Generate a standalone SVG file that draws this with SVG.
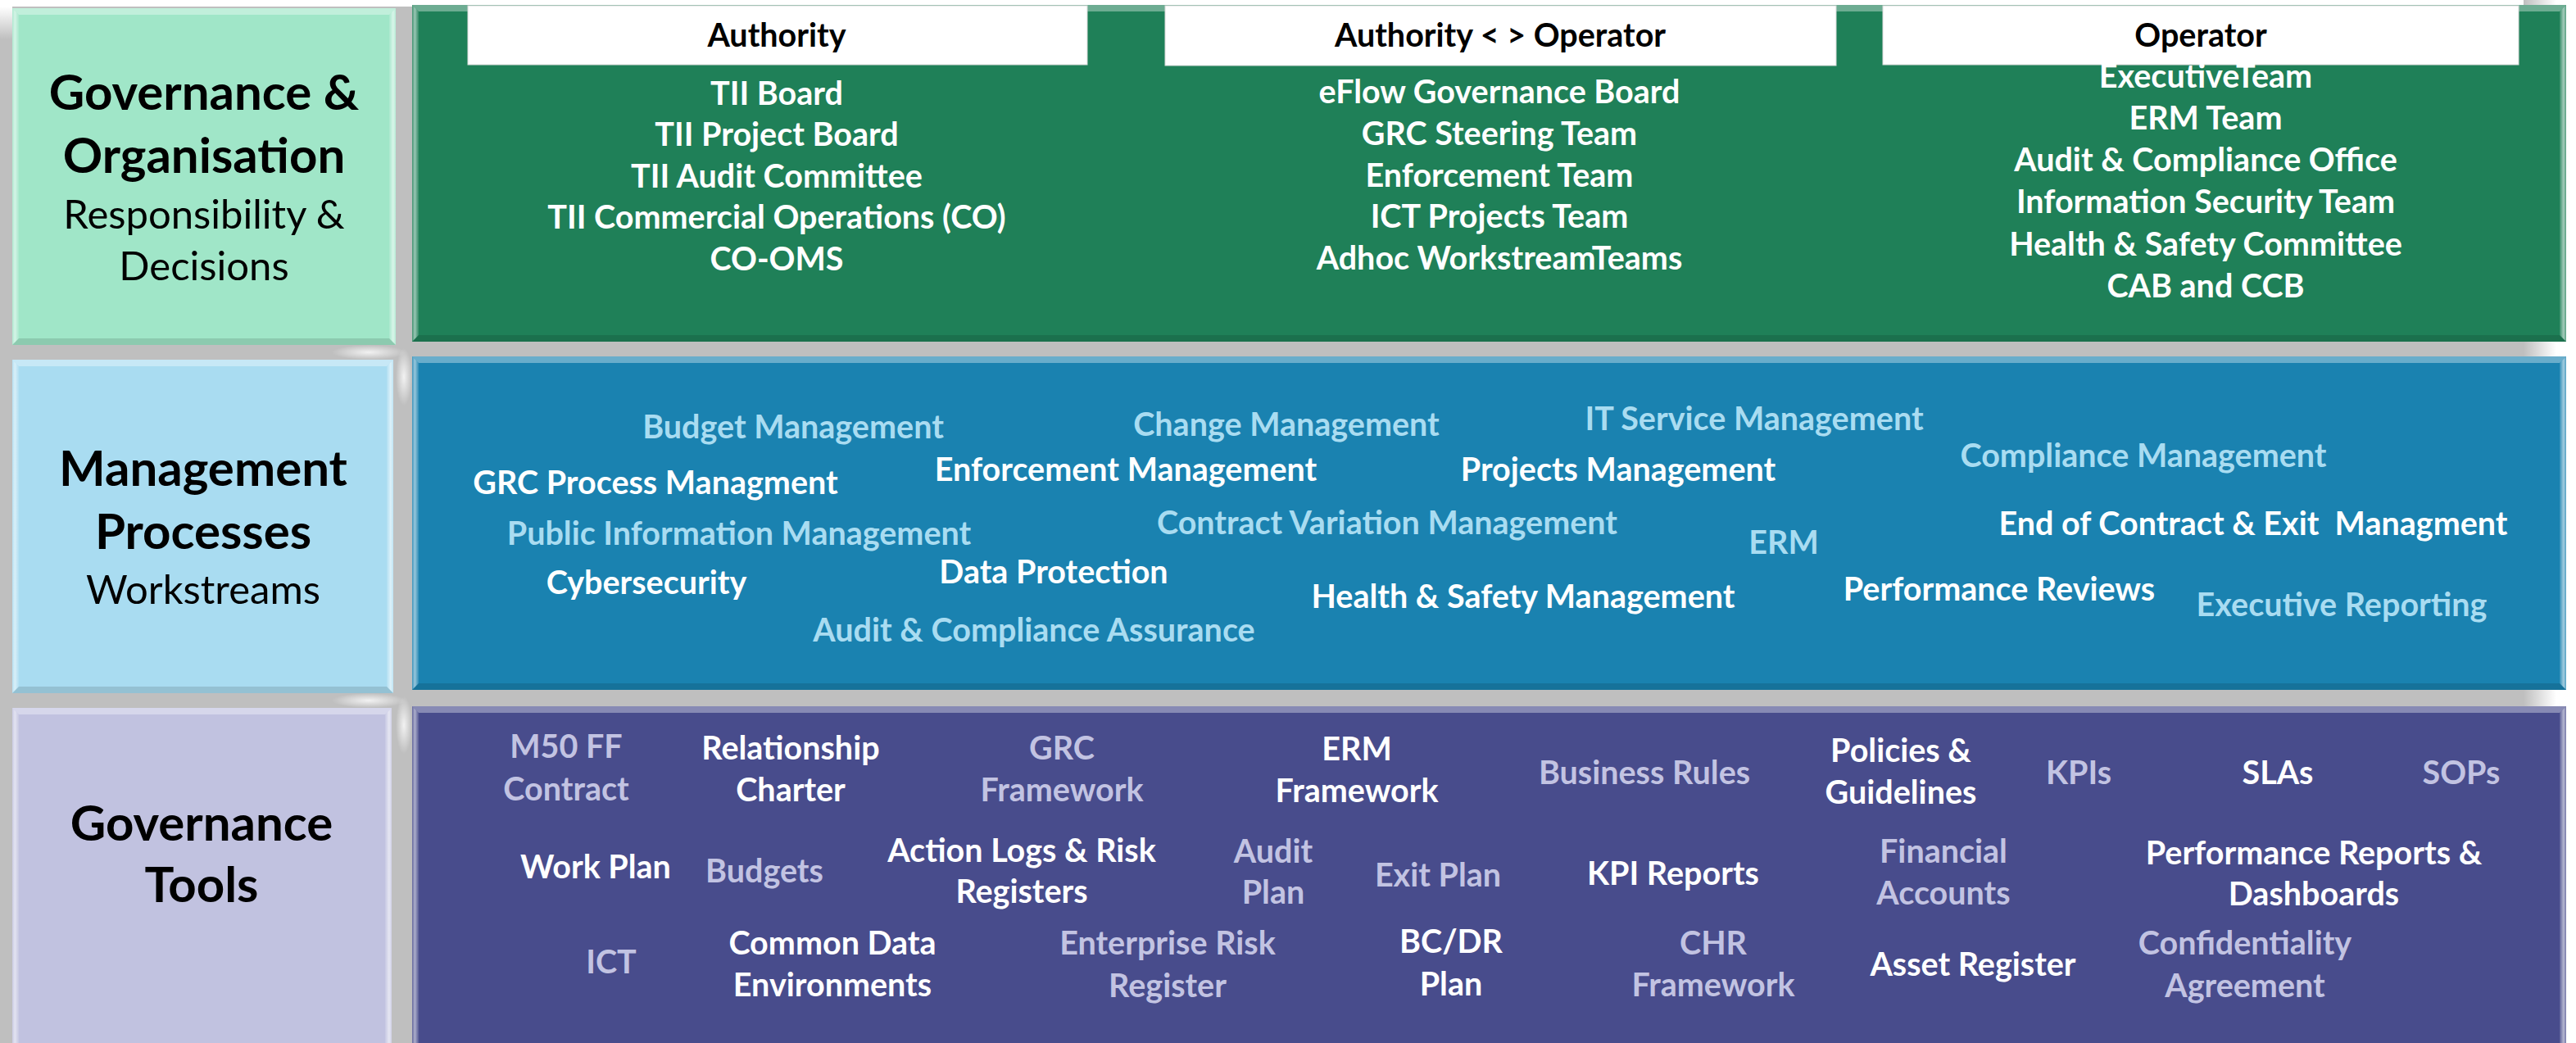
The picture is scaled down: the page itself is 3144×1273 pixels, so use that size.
<svg xmlns="http://www.w3.org/2000/svg" width="3144" height="1273" viewBox="0 0 3144 1273">
  <defs>
    <style>
      .t { font-family: Lato, "Open Sans", "Liberation Sans", sans-serif; font-weight: 700; text-anchor: middle; }
      .title { font-size: 60px; fill: #000; }
      .sub { font-size: 49px; font-weight: 400; fill: #000; }
      .hd { font-size: 39.5px; fill: #000; }
      .item { font-size: 39.5px; }
      .w { fill: #ffffff; }
      .lb { fill: #a9dcf1; }
      .lv { fill: #c2c3e2; }
      .hdbox { fill: #ffffff; stroke: #d9d9d9; stroke-width: 1; }
      .bvL { fill: url(#bevelL); }
      .bvR { fill: url(#bevelR); }
      .bvT { fill: #ffffff; fill-opacity: 0.35; }
      .bvB { fill: #000000; fill-opacity: 0.12; }
    </style>
    <linearGradient id="bevelL" x1="0" y1="0" x2="1" y2="0">
      <stop offset="0" stop-color="#ffffff" stop-opacity="0.15"/>
      <stop offset="0.4" stop-color="#ffffff" stop-opacity="0.55"/>
      <stop offset="1" stop-color="#ffffff" stop-opacity="0.1"/>
    </linearGradient>
    <linearGradient id="bevelR" x1="0" y1="0" x2="1" y2="0">
      <stop offset="0" stop-color="#ffffff" stop-opacity="0.1"/>
      <stop offset="0.6" stop-color="#ffffff" stop-opacity="0.6"/>
      <stop offset="1" stop-color="#ffffff" stop-opacity="0.25"/>
    </linearGradient>
    <linearGradient id="fadeRight" x1="0" y1="0" x2="1" y2="0">
      <stop offset="0" stop-color="#bfbfbf"/>
      <stop offset="1" stop-color="#ffffff"/>
    </linearGradient>
    <linearGradient id="fadeTop" x1="0" y1="0" x2="0" y2="1">
      <stop offset="0" stop-color="#ffffff"/>
      <stop offset="1" stop-color="#bfbfbf"/>
    </linearGradient>
    <radialGradient id="glint">
      <stop offset="0" stop-color="#ffffff" stop-opacity="0.8"/>
      <stop offset="1" stop-color="#ffffff" stop-opacity="0"/>
    </radialGradient>
  </defs>

  <!-- backdrop -->
  <g id="backdrop">
    <rect x="0" y="0" width="3144" height="1273" fill="#bfbfbf"/>
    <rect x="0" y="0" width="3144" height="8" fill="#ffffff"/>
    <rect x="0" y="8" width="15" height="40" fill="url(#fadeTop)"/>
    <rect x="3080" y="0" width="40" height="1273" fill="url(#fadeRight)"/>
    <rect x="3120" y="0" width="24" height="1273" fill="#ffffff"/>
    <ellipse cx="450" cy="430" rx="45" ry="9" fill="url(#glint)"/>
    <ellipse cx="450" cy="855" rx="45" ry="9" fill="url(#glint)"/>
    <ellipse cx="493" cy="460" rx="10" ry="35" fill="url(#glint)"/>
    <ellipse cx="493" cy="885" rx="10" ry="35" fill="url(#glint)"/>
  </g>

  <!-- Row 1: Governance & Organisation -->
  <g id="gov-org-label">
    <rect x="15" y="10" width="468" height="411" fill="#a0e6c8"/>
    <polygon class="bvL" points="15,10 23,18 23,413 15,421"/>
    <polygon class="bvR" points="483,10 475,18 475,413 483,421"/>
    <polygon class="bvT" points="15,10 483,10 475,18 23,18"/>
    <polygon class="bvB" points="15,421 483,421 475,413 23,413"/>
    <text class="t title" x="249" y="134">Governance &amp;</text>
    <text class="t title" x="249" y="211">Organisation</text>
    <text class="t sub" x="249" y="279">Responsibility &amp;</text>
    <text class="t sub" x="249" y="342">Decisions</text>
  </g>

  <g id="gov-org-content">
    <rect x="503" y="6" width="2629" height="411" fill="#1f8058"/>
    <polygon class="bvL" points="503,6 511,14 511,409 503,417"/>
    <polygon class="bvR" points="3132,6 3124,14 3124,409 3132,417"/>
    <polygon class="bvT" points="503,6 3132,6 3124,14 511,14"/>
    <polygon class="bvB" points="503,417 3132,417 3124,409 511,409"/>

    <g id="authority">
      <rect class="hdbox" x="571" y="7" width="756" height="72"/>
      <text class="t hd" x="948" y="57">Authority</text>
      <text class="t item w" x="948" y="128">TII Board</text>
      <text class="t item w" x="948" y="178">TII Project Board</text>
      <text class="t item w" x="948" y="229">TII Audit Committee</text>
      <text class="t item w" x="948" y="279">TII Commercial Operations (CO)</text>
      <text class="t item w" x="948" y="330">CO-OMS</text>
    </g>

    <g id="authority-operator">
      <rect class="hdbox" x="1422" y="7" width="819" height="73"/>
      <text class="t hd" x="1831" y="57">Authority &lt; &gt; Operator</text>
      <text class="t item w" x="1830" y="126">eFlow Governance Board</text>
      <text class="t item w" x="1830" y="177">GRC Steering Team</text>
      <text class="t item w" x="1830" y="228">Enforcement Team</text>
      <text class="t item w" x="1830" y="278">ICT Projects Team</text>
      <text class="t item w" x="1830" y="329">Adhoc WorkstreamTeams</text>
    </g>

    <g id="operator">
      <rect class="hdbox" x="2298" y="7" width="776" height="72"/>
      <text class="t hd" x="2686" y="57">Operator</text>
      <text class="t item w" x="2692" y="107">ExecutiveTeam</text>
      <text class="t item w" x="2692" y="158">ERM Team</text>
      <text class="t item w" x="2692" y="209">Audit &amp; Compliance Office</text>
      <text class="t item w" x="2692" y="260">Information Security Team</text>
      <text class="t item w" x="2692" y="312">Health &amp; Safety Committee</text>
      <text class="t item w" x="2692" y="363">CAB and CCB</text>
    </g>
  </g>

  <!-- Row 2: Management Processes -->
  <g id="mgmt-label">
    <rect x="15" y="439" width="465" height="407" fill="#a9dcf1"/>
    <polygon class="bvL" points="15,439 23,447 23,838 15,846"/>
    <polygon class="bvR" points="480,439 472,447 472,838 480,846"/>
    <polygon class="bvT" points="15,439 480,439 472,447 23,447"/>
    <polygon class="bvB" points="15,846 480,846 472,838 23,838"/>
    <text class="t title" x="248" y="593">Management</text>
    <text class="t title" x="248" y="670">Processes</text>
    <text class="t sub" x="248" y="737">Workstreams</text>
  </g>

  <g id="mgmt-content">
    <rect x="503" y="435" width="2629" height="407" fill="#1a82b0"/>
    <polygon class="bvL" points="503,435 511,443 511,834 503,842"/>
    <polygon class="bvR" points="3132,435 3124,443 3124,834 3132,842"/>
    <polygon class="bvT" points="503,435 3132,435 3124,443 511,443"/>
    <polygon class="bvB" points="503,842 3132,842 3124,834 511,834"/>

    <text class="t item lb" x="968" y="535">Budget Management</text>
    <text class="t item lb" x="1570" y="532">Change Management</text>
    <text class="t item lb" x="2141" y="525">IT Service Management</text>
    <text class="t item w" x="800" y="603">GRC Process Managment</text>
    <text class="t item w" x="1374" y="587">Enforcement Management</text>
    <text class="t item w" x="1975" y="587">Projects Management</text>
    <text class="t item lb" x="2616" y="570">Compliance Management</text>
    <text class="t item lb" x="902" y="665">Public Information Management</text>
    <text class="t item lb" x="1693" y="652">Contract Variation Management</text>
    <text class="t item lb" x="2177" y="676">ERM</text>
    <text class="t item w" x="2750" y="653" xml:space="preserve">End of Contract &amp; Exit  Managment</text>
    <text class="t item w" x="789" y="725">Cybersecurity</text>
    <text class="t item w" x="1286" y="712">Data Protection</text>
    <text class="t item w" x="1859" y="742">Health &amp; Safety Management</text>
    <text class="t item w" x="2440" y="733">Performance Reviews</text>
    <text class="t item lb" x="2858" y="752">Executive Reporting</text>
    <text class="t item lb" x="1262" y="783">Audit &amp; Compliance Assurance</text>
  </g>

  <!-- Row 3: Governance Tools -->
  <g id="tools-label">
    <rect x="15" y="864" width="463" height="420" fill="#c1c2e0"/>
    <polygon class="bvL" points="15,864 23,872 23,1284 15,1284"/>
    <polygon class="bvR" points="478,864 470,872 470,1284 478,1284"/>
    <polygon class="bvT" points="15,864 478,864 470,872 23,872"/>
    <text class="t title" x="246" y="1026">Governance</text>
    <text class="t title" x="246" y="1101">Tools</text>
  </g>

  <g id="tools-content">
    <rect x="503" y="862" width="2629" height="420" fill="#484c8c"/>
    <polygon class="bvL" points="503,862 511,870 511,1284 503,1284"/>
    <polygon class="bvR" points="3132,862 3124,870 3124,1284 3132,1284"/>
    <polygon class="bvT" points="503,862 3132,862 3124,870 511,870"/>

    <text class="t item lv" x="691" y="925">M50 FF</text>
    <text class="t item lv" x="691" y="977">Contract</text>
    <text class="t item w" x="965" y="927">Relationship</text>
    <text class="t item w" x="965" y="978">Charter</text>
    <text class="t item lv" x="1296" y="927">GRC</text>
    <text class="t item lv" x="1296" y="978">Framework</text>
    <text class="t item w" x="1656" y="928">ERM</text>
    <text class="t item w" x="1656" y="979">Framework</text>
    <text class="t item lv" x="2007" y="957">Business Rules</text>
    <text class="t item w" x="2320" y="930">Policies &amp;</text>
    <text class="t item w" x="2320" y="981">Guidelines</text>
    <text class="t item lv" x="2537" y="957">KPIs</text>
    <text class="t item w" x="2780" y="957">SLAs</text>
    <text class="t item lv" x="3004" y="957">SOPs</text>

    <text class="t item w" x="727" y="1072">Work Plan</text>
    <text class="t item lv" x="933" y="1077">Budgets</text>
    <text class="t item w" x="1247" y="1052">Action Logs &amp; Risk</text>
    <text class="t item w" x="1247" y="1102">Registers</text>
    <text class="t item lv" x="1554" y="1053">Audit</text>
    <text class="t item lv" x="1554" y="1103">Plan</text>
    <text class="t item lv" x="1755" y="1082">Exit Plan</text>
    <text class="t item w" x="2042" y="1080">KPI Reports</text>
    <text class="t item lv" x="2372" y="1053">Financial</text>
    <text class="t item lv" x="2372" y="1104">Accounts</text>
    <text class="t item w" x="2824" y="1055">Performance Reports &amp;</text>
    <text class="t item w" x="2824" y="1105">Dashboards</text>

    <text class="t item lv" x="746" y="1188">ICT</text>
    <text class="t item w" x="1016" y="1165">Common Data</text>
    <text class="t item w" x="1016" y="1216">Environments</text>
    <text class="t item lv" x="1425" y="1165">Enterprise Risk</text>
    <text class="t item lv" x="1425" y="1217">Register</text>
    <text class="t item w" x="1771" y="1163">BC/DR</text>
    <text class="t item w" x="1771" y="1215">Plan</text>
    <text class="t item lv" x="2091" y="1165">CHR</text>
    <text class="t item lv" x="2091" y="1216">Framework</text>
    <text class="t item w" x="2408" y="1191">Asset Register</text>
    <text class="t item lv" x="2740" y="1165">Confidentiality</text>
    <text class="t item lv" x="2740" y="1217">Agreement</text>
  </g>
</svg>
